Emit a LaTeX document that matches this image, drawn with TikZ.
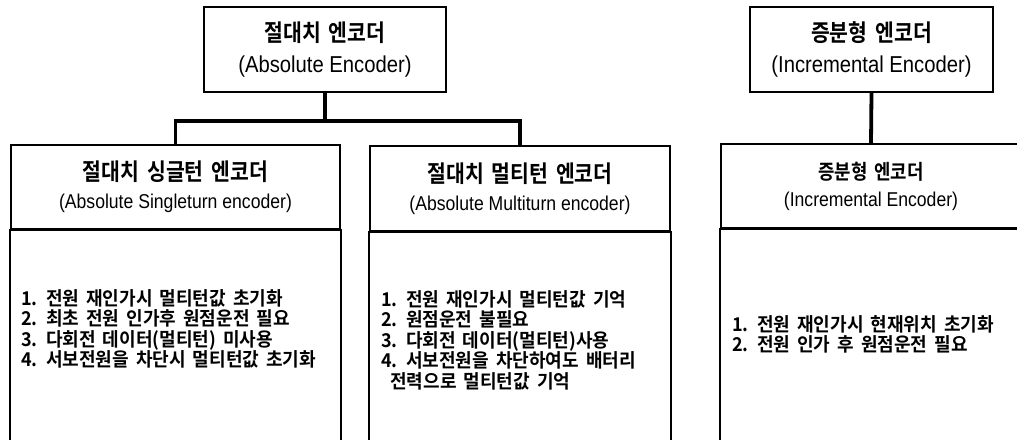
\documentclass[tikz,border=0pt]{standalone}
\usepackage{fontspec}
\setmainfont{Noto Sans CJK KR}[UprightFont=* Bold, WordSpace=1.7, FakeStretch=0.87]
\newfontfamily\listfont{Noto Sans CJK KR}[UprightFont=* Bold, WordSpace=1.7, FakeStretch=0.95]
\newfontfamily\latinfont[FakeStretch=0.88]{Liberation Sans}
\usetikzlibrary{positioning, calc}

\begin{document}
\begin{tikzpicture}[
      x=1pt, y=-1pt,
      boxline/.style={draw, line width=1.9pt},
      topbox/.style={boxline, minimum width=242pt, minimum height=85pt, align=center, inner sep=0pt,
        font=\fontsize{23.5}{31}\selectfont},
      headbox/.style={boxline, minimum width=#1, minimum height=84pt, align=center, inner sep=0pt,
        font=\fontsize{23.5}{28}\selectfont},
      listtext/.style={anchor=west, align=left, inner sep=0pt, font=\listfont\fontsize{19}{20.5}\selectfont},
      link/.style={draw, line width=3.8pt}
    ]
      \useasboundingbox (0,0) rectangle (1017,439);
      \clip (0,0) rectangle (1017,439);

      \node[topbox] (abs) at (325,49.5)
        {절대치 엔코더\\{\latinfont\fontsize{23}{31}\selectfont (Absolute Encoder)}};
      \node[topbox, minimum width=243pt] (inc) at (871.5,49.5)
        {증분형 엔코더\\{\latinfont\fontsize{23}{31}\selectfont (Incremental Encoder)}};

      \node[headbox=329pt] (single) at (175.5,187)
        {절대치 싱글턴 엔코더\\{\latinfont\fontsize{20}{28}\selectfont (Absolute Singleturn encoder)}};
      \node[headbox=300pt, minimum height=85pt] (multi) at (520,188.5)
        {절대치 멀티턴 엔코더\\{\latinfont\fontsize{20}{28}\selectfont (Absolute Multiturn encoder)}};
      \node[headbox=300pt, font=\fontsize{20.5}{27}\selectfont] (incsub) at (871,186)
        {증분형 엔코더\\{\latinfont\fontsize{20}{27}\selectfont (Incremental Encoder)}};

      \draw[boxline] (single.south west) rectangle ($(single.south east)+(0,240)$);
      \draw[boxline] (multi.south west) rectangle ($(multi.south east)+(0,240)$);
      \draw[boxline] (incsub.south west) rectangle ($(incsub.south east)+(0,240)$);

      \node[listtext] (singlelist) at ($(single.south west)+(11,99)$)
        {1. 전원 재인가시 멀티턴값 초기화\\2. 최초 전원 인가후 원점운전 필요\\3. 다회전 데이터(멀티턴) 미사용\\4. 서보전원을 차단시 멀티턴값 초기화};
      \node[listtext] (multilist) at ($(multi.south west)+(12,108)$)
        {1. 전원 재인가시 멀티턴값 기억\\2. 원점운전 불필요\\3. 다회전 데이터(멀티턴)사용\\4. 서보전원을 차단하여도 배터리\\\hspace*{9pt}전력으로 멀티턴값 기억};
      \node[listtext] (inclist) at ($(incsub.south west)+(12,105.5)$)
        {1. 전원 재인가시 현재위치 초기화\\2. 전원 인가 후 원점운전 필요};

      \coordinate (fork) at ($(abs.south)+(0,28)$);
      \draw[link] (abs.south) -- (fork);
      \draw[link] (single.north) |- (fork) -| (multi.north);
      \draw[link] (inc.south) -- (incsub.north);
    \end{tikzpicture}
\end{document}
